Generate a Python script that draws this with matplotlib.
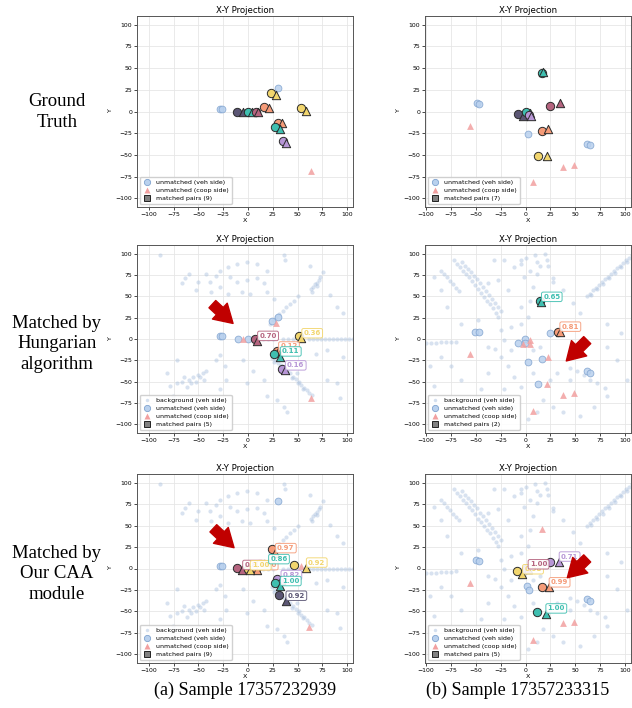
import numpy as np
import matplotlib.pyplot as plt
from matplotlib.lines import Line2D

# ----------------------------
# Data
# ----------------------------
# faint background cloud (veh side), sample a
bg_a = [
    (24, -22), (26, -27), (27, -25), (30, -28), (32, -33), (33, -31), (36, -34), (38, -39),
    (39, -37), (42, -40), (44, -46), (45, -44), (48, -47), (50, -52), (51, -50), (54, -54),
    (56, -58), (57, -57), (60, -60), (62, -63), (65, -66),
    (22, 18), (25, 22), (28, 26), (31, 29), (35, 33), (38, 37), (42, 41), (46, 45), (50, 50),
    (64, 58), (65, 55), (66, 61), (68, 64), (70, 62), (70, 66), (72, 69), (73, 72),
    (-79, -55), (-72, -52), (-67, -50), (-60, -48), (-55, -45), (-50, -42), (-45, -40), (-42, -38),
    (-52, -50), (-48, -45), (-44, -48), (-58, -52), (-62, -56),
    (62, 0), (66, 0), (70, 0), (74, 0), (78, 0), (82, 0), (86, 0), (90, 0), (94, 0), (98, 0),
    (102, 0), (106, 0), (110, 0), (15, 0), (20, 0), (25, 0), (35, 0), (40, 0), (45, 0),
    (-89, 98), (-67, 65), (-64, 71), (-60, 76), (-52, 57), (-50, 67), (-42, 76), (-38, 67),
    (-32, 74), (-28, 80), (-20, 84), (-11, 88), (-1, 90), (9, 88), (19, 80), (36, 98), (37, 92),
    (63, 86), (76, 78), (83, 51), (90, 38), (96, 30), (-6, 55), (2, 53), (-20, 53), (-28, 61),
    (16, 65), (9, 71), (-1, 69), (-11, 67), (-18, 72), (-37, 55), (19, 55), (26, 47),
    (-32, -24), (-28, -19), (-23, -32), (-5, -24), (5, -38), (-1, -52), (16, -48), (19, -67),
    (29, -71), (36, -79), (39, -86), (80, -48), (90, -52), (93, -69), (69, -17), (80, -13),
    (96, -21), (49, -40), (56, -28), (-72, -24), (-65, -44), (-82, -40), (-76, -67), (-28, -59),
    (-22, -48),
]

# faint background cloud (veh side), sample b
bg_b = [
    (-72, 92), (-69, 88), (-66, 84), (-63, 80), (-60, 76), (-57, 72), (-54, 68), (-51, 63),
    (-48, 58), (-45, 54), (-42, 49), (-39, 45), (-36, 41), (-33, 36), (-30, 31), (-28, 26),
    (-64, 90), (-61, 86), (-58, 82), (-55, 78), (-52, 74), (-49, 70), (-46, 65), (-43, 61),
    (-40, 56), (-37, 52), (-34, 47), (-31, 42), (-28, 38), (-25, 33),
    (-85, 80), (-82, 76), (-79, 72), (-76, 68), (-73, 64), (-70, 60), (-67, 56),
    (62, 50), (65, 53), (68, 57), (71, 60), (74, 63), (77, 67), (80, 70), (83, 73), (86, 76),
    (89, 80), (92, 83), (95, 86), (98, 89), (101, 92), (104, 95), (107, 98), (66, 51), (72, 58),
    (78, 64), (84, 71), (90, 77), (96, 84), (102, 90), (108, 96),
    (10, 98), (20, 100), (22, 92), (23, 86), (28, 71), (28, 67), (15, 85), (12, 90), (5, 80),
    (0, 95), (-5, 88),
    (-100, -5), (-95, -5), (-90, -5), (-85, -4), (-80, -4), (-75, -4), (-70, -3), (-38, -9),
    (-31, -12),
    (45, -34), (52, -38), (59, -42), (65, -48), (72, -52), (80, -57),
    (-22, -1), (-15, -13), (-25, -21), (-18, -32), (-12, -44), (-5, -56), (-22, -59), (-28, -71),
    (-12, -79), (2, -94), (12, -86), (18, -71), (28, -79), (38, -86), (45, -48), (32, -40),
    (25, -48), (8, -40), (8, -13), (15, -9), (-15, 14), (-25, 10), (-5, 18), (2, 26), (-5, 38),
    (5, 45), (8, 61), (-2, 72), (-12, 84), (-5, 92), (12, 76), (38, 57), (48, 42), (55, 30),
    (82, 18), (96, 7), (82, -9), (92, -24), (102, -48), (82, -67), (69, -79), (55, -90),
    (-38, -40), (-45, -59), (-55, -79), (-65, -48), (-75, -32), (-85, -21), (-96, -32),
    (-92, -55), (-38, 65), (-28, 69), (-18, 57), (-22, 92), (-32, 92), (-48, 22), (-65, 18),
    (-79, 38), (-85, 57), (-92, 72),
]

# --- Ground truth, sample a
gt_a_veh = [(-28, 3), (-26, 3), (30, 27)]
gt_a_coop = [(63.6, -68.8)]
gt_a_pair_veh = [(-10.8, 0), (-0.3, 0), (8, 0), (22.9, 21.7), (16.2, 5.5),
                 (53.5, 3.7), (30.6, -13.7), (27.3, -17.5), (35, -34)]
gt_a_pair_coop = [(-5.4, -1), (3.7, -1), (9.8, -1), (28, 18.7), (21.2, 4.4),
                  (58.6, 1), (34, -13.7), (32.3, -20.6), (38.4, -36.8)]
gt_a_pair_col = ["dark", "teal", "mauve", "yellow", "salmon", "yellow", "salmon", "teal", "lav"]

# --- Ground truth, sample b
gt_b_veh = [(-49, 9.5), (-47, 8.7), (3, -26), (62, -37.6), (64.3, -38.7)]
gt_b_coop = [(-56, -16.8), (37.5, -63.8), (49, -61.8), (8, -81.5)]
gt_b_pair_veh = [(16.3, 44.5), (25.1, 6.7), (-7.7, -3.2), (0, -0.2), (3.5, -4.5),
                 (16.4, -22.5), (12.4, -51.4)]
gt_b_pair_coop = [(17.3, 45.3), (34.2, 9.5), (-2.7, -5.2), (5, -2), (5.4, -5.2),
                  (22.4, -20.6), (21.4, -51.4)]
gt_b_pair_col = ["teal", "mauve", "dark", "teal", "lav", "salmon", "yellow"]

# --- Hungarian, sample a
hu_a_veh = [(-28, 3), (-26, 3), (-10.4, -0.5), (-0.3, -0.5), (24, 21), (30, 26)]
hu_a_coop = [(-5.5, -0.5), (28, 18.3), (63.6, -68.8)]
hu_a_pair_veh = [(7, 0), (51.8, 3), (29.5, -13.5), (26.6, -17.4), (34.3, -35.3)]
hu_a_pair_coop = [(9.4, -2.3), (54, 0.8), (30.6, -14.7), (32.3, -20.5), (37.4, -36.8)]
hu_a_pair_col = ["mauve", "yellow", "salmon", "teal", "lav"]
hu_a_score = ["0.70", "0.36", "0.12", "0.11", "0.16"]

# --- Hungarian, sample b
hu_b_veh = [(-51, 8.5), (-47, 8), (25, 6.6), (-7.7, -4.3), (-0.7, -0.4), (-0.4, -4.3),
            (2.7, -26.4), (16.8, -23.3), (62, -38), (64.6, -39.5), (12.4, -52.3)]
hu_b_coop = [(-2.7, -5.8), (5, -1.2), (5, -5.8), (-55.3, -17.8), (22.4, -21.3),
             (21.8, -52.3), (37.5, -65), (49, -63.2), (8, -83.7)]
hu_b_pair_veh = [(15, 44.5), (33, 8.5)]
hu_b_pair_coop = [(15.7, 43.4), (34.2, 8.5)]
hu_b_pair_col = ["teal", "salmon"]
hu_b_score = ["0.65", "0.81"]

# --- CAA, sample a
caa_a_veh = [(30, 79), (-28, 3.3), (-26, 3.3)]
caa_a_coop = [(53.5, 3), (62, -68)]
caa_a_pair_veh = [(-11, 0.2), (8, 0), (-0.3, 0), (23.9, 22.4), (16.2, 5.5),
                  (46.8, 4.1), (29, -12.3), (27.3, -17.3), (31.6, -31)]
caa_a_pair_coop = [(-5.7, -1.8), (9, -2), (2, -2.2), (27.3, 17.8), (20.5, 5),
                   (58.6, 1), (33, -13.5), (32.3, -20.5), (38, -37.6)]
caa_a_pair_col = ["mauve", "salmon", "yellow", "salmon", "teal", "yellow", "lav", "teal", "dark"]
caa_a_score = ["0.81", "1.00", "1.00", "0.97", "0.86", "0.92", "0.82", "1.00", "0.92"]

# --- CAA, sample b
caa_b_veh = [(-50.2, 9.9), (-47, 9.1), (1.7, -20.5), (3.4, -25), (62, -36), (64.3, -38)]
caa_b_coop = [(16.1, 45.8), (-55.3, -16.6), (37.5, -64), (49, -62.2), (8, -82.8)]
caa_b_pair_veh = [(25.1, 8), (-8.4, -2.5), (0, -0.5), (16.1, -22), (11.7, -50.5)]
caa_b_pair_coop = [(33.5, 8), (-3.3, -6.8), (2.3, -1), (23.4, -22), (20.1, -52.4)]
caa_b_pair_col = ["lav", "yellow", "mauve", "salmon", "teal"]
caa_b_score = ["0.71", "0.98", "1.00", "0.99", "1.00"]

row_names = ["Ground\nTruth", "Matched by\nHungarian\nalgorithm", "Matched by\nOur CAA\nmodule"]
captions = ["(a) Sample 17357232939", "(b) Sample 17357233315"]

# red arrows (tail -> tip) in data units
arrows = {
    (1, 0): ((-38, 43), (-13, 16)),
    (1, 1): ((64, 1), (39, -28)),
    (2, 0): ((-37, 49), (-12, 22)),
    (2, 1): ((64, 14), (40, -13)),
}

# ----------------------------
# Styles
# ----------------------------
palette = {
    "dark": "#5b5674",
    "teal": "#3fbfb0",
    "mauve": "#b5647f",
    "yellow": "#f2d66e",
    "salmon": "#f59b78",
    "lav": "#b796d6",
}
BG_COL = "#a9c0de"
VEH_FC = "#b9d1ee"
VEH_EC = "#7fa2cf"
COOP_COL = "#f2a0a0"

W, H = 632, 708
col_px = [(137, 353), (425, 631)]
row_px = [(16, 207), (245, 433), (474, 663)]
xlims = [(-112, 106), (-101, 106)]


def draw_panel(ax, bg, veh, coop, pv, pc, pcol, scores, show_bg):
    if show_bg:
        b = np.array(bg)
        ax.scatter(b[:, 0], b[:, 1], s=9, c=BG_COL, alpha=0.45, lw=0, zorder=1)
    v = np.array(veh)
    ax.scatter(v[:, 0], v[:, 1], s=24, c=VEH_FC, edgecolors=VEH_EC, lw=0.6, alpha=0.85, zorder=2)
    c = np.array(coop)
    ax.scatter(c[:, 0], c[:, 1], s=24, marker="^", c=COOP_COL, lw=0, alpha=0.85, zorder=2)
    for i, (a, t, k) in enumerate(zip(pv, pc, pcol)):
        col = palette[k]
        ax.scatter([a[0]], [a[1]], s=36, c=col, edgecolors="#2b2b2b", lw=0.7, zorder=3)
        ax.scatter([t[0]], [t[1]], s=36, marker="^", c=col, edgecolors="#2b2b2b", lw=0.7, zorder=3)
        if scores is not None:
            ax.annotate(scores[i], xy=t, xytext=(1.5, 1.5), textcoords="offset points",
                        ha="left", va="bottom", fontsize=5, fontweight="bold", color=col,
                        zorder=4 + i * 0.01,
                        bbox=dict(boxstyle="round,pad=0.25", fc="white", ec=col, lw=0.7, alpha=0.9))
    n = len(pv)
    handles = []
    if show_bg:
        handles.append(Line2D([], [], ls="", marker="o", ms=2.5, mfc=BG_COL, mec="none", alpha=0.5,
                              label="background (veh side)"))
    handles += [
        Line2D([], [], ls="", marker="o", ms=4.5, mfc=VEH_FC, mec=VEH_EC, mew=0.6,
               label="unmatched (veh side)"),
        Line2D([], [], ls="", marker="^", ms=4.5, mfc=COOP_COL, mec="none",
               label="unmatched (coop side)"),
        Line2D([], [], ls="", marker="s", ms=4.5, mfc="#808080", mec="#222222", mew=0.7,
               label=f"matched pairs ({n})"),
    ]
    ax.legend(handles=handles, loc="lower left", fontsize=4.5, framealpha=0.9,
              borderpad=0.4, labelspacing=0.45, handletextpad=0.8, handlelength=1.4,
              edgecolor="#cccccc", fancybox=True)


panels = [
    [(bg_a, gt_a_veh, gt_a_coop, gt_a_pair_veh, gt_a_pair_coop, gt_a_pair_col, None, False),
     (bg_b, gt_b_veh, gt_b_coop, gt_b_pair_veh, gt_b_pair_coop, gt_b_pair_col, None, False)],
    [(bg_a, hu_a_veh, hu_a_coop, hu_a_pair_veh, hu_a_pair_coop, hu_a_pair_col, hu_a_score, True),
     (bg_b, hu_b_veh, hu_b_coop, hu_b_pair_veh, hu_b_pair_coop, hu_b_pair_col, hu_b_score, True)],
    [(bg_a, caa_a_veh, caa_a_coop, caa_a_pair_veh, caa_a_pair_coop, caa_a_pair_col, caa_a_score, True),
     (bg_b, caa_b_veh, caa_b_coop, caa_b_pair_veh, caa_b_pair_coop, caa_b_pair_col, caa_b_score, True)],
]

fig = plt.figure(figsize=(W / 100, H / 100), dpi=100)

for r in range(3):
    for cidx in range(2):
        x0, x1 = col_px[cidx]
        y0, y1 = row_px[r]
        ax = fig.add_axes([x0 / W, 1 - y1 / H, (x1 - x0) / W, (y1 - y0) / H])
        draw_panel(ax, *panels[r][cidx])
        ax.set_xlim(*xlims[cidx])
        ax.set_ylim(-110, 110)
        ax.set_xticks(np.arange(-100, 101, 25))
        ax.set_yticks(np.arange(-100, 101, 25))
        ax.grid(True, color="#e6e6e6", lw=0.6)
        ax.set_axisbelow(True)
        ax.tick_params(labelsize=4.4, length=2, width=0.5, pad=1.5)
        for sp in ax.spines.values():
            sp.set_color("#555555")
            sp.set_linewidth(0.7)
        ax.set_title("X-Y Projection", fontsize=6.2, pad=2.5)
        ax.set_xlabel("X", fontsize=4.6, labelpad=1)
        ax.set_ylabel("Y", fontsize=4.6, labelpad=2)
        if (r, cidx) in arrows:
            tail, tip = arrows[(r, cidx)]
            ax.annotate("", xy=tip, xytext=tail, zorder=6,
                        arrowprops=dict(arrowstyle="simple,head_length=1.0,head_width=1.2,tail_width=0.55",
                                        fc="#c00000", ec="#c00000", mutation_scale=13))

row_y = [112, 344, 574]
for name, yy in zip(row_names, row_y):
    fig.text(57 / W, 1 - yy / H, name, ha="center", va="center", fontsize=13.5,
             family="Liberation Serif", linespacing=1.25)

cap_x = [245, 518]
for cap, xx in zip(captions, cap_x):
    fig.text(xx / W, 1 - 690 / H, cap, ha="center", va="center", fontsize=13,
             family="Liberation Serif")

fig.savefig("out.png", dpi=100)
